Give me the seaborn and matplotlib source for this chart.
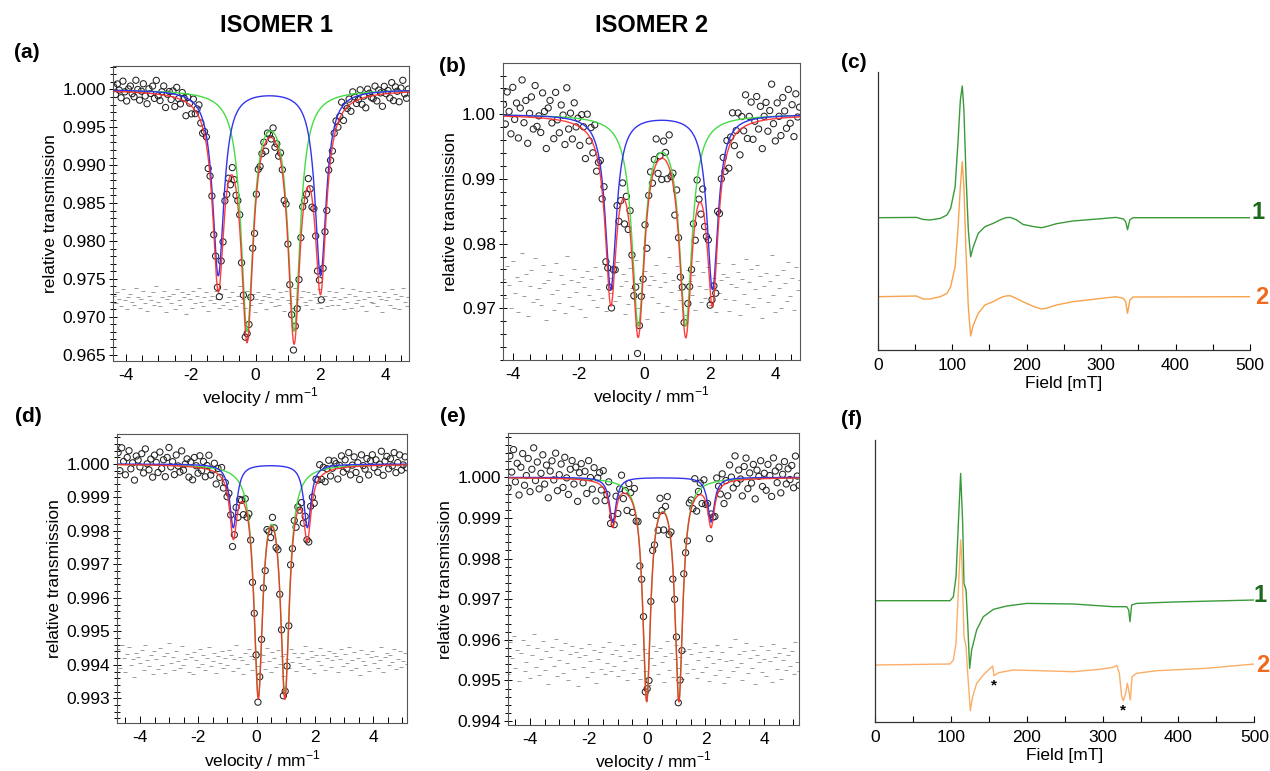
import numpy as np
import pandas as pd
import seaborn as sns
import matplotlib.pyplot as plt
from matplotlib.ticker import MultipleLocator, FormatStrFormatter

# -------------------------------
# Mossbauer fits: doublet line positions (mm/s), depth, half width
# -------------------------------
a_green_pos, a_green_shape = [-0.26, 1.19], (0.0312, 0.225)
a_blue_pos, a_blue_shape = [-1.15, 2.01], (0.0245, 0.21)
b_green_pos, b_green_shape = [-0.18, 1.27], (0.032, 0.23)
b_blue_pos, b_blue_shape = [-1.02, 2.09], (0.027, 0.205)
d_green_pos, d_green_shape = [0.057, 0.97], (0.0067, 0.18)
d_blue_pos, d_blue_shape = [-0.80, 1.74], (0.0019, 0.15)
e_green_pos, e_green_shape = [-0.01, 1.09], (0.0054, 0.16)
e_blue_pos, e_blue_shape = [-1.17, 2.19], (0.0011, 0.14)

# labelled y ticks of each spectrum
a_yticks = [0.965, 0.970, 0.975, 0.980, 0.985, 0.990, 0.995, 1.000]
b_yticks = [0.97, 0.98, 0.99, 1.00]
d_yticks = [0.993, 0.994, 0.995, 0.996, 0.997, 0.998, 0.999, 1.000]
e_yticks = [0.994, 0.995, 0.996, 0.997, 0.998, 0.999, 1.000]

a_resid = [3, -2, 5, 1, -4, 7, 0, -6, 2, 4, -1, -3, 8, 2, -5, 1, 6, -2, -7, 3,
           0, 5, -3, 9, -1, -4, 2, 6, -8, 1, 3, -2, 4, -6, 7, 0, -3, 5, 2, -9,
           4, 1, -5, 6, -2, 3, 8, -1, -4, 2, 5, -7, 0, 3, -2, 6, 1, -5, 4, -3,
           7, -1, 2, -6, 5, 0, -4, 3, 9, -2, 1, -5, 6, 2, -3, 4, -8, 1, 5, -2,
           0, 3, -6, 4, 2, -1, 7, -4, 1, -3, 5, 2, -7, 6, 0, -2, 3, -5, 8, 1,
           -4, 2, 6, -1, -3, 5, 0, -6, 4, 2, -2, 7, -5, 1, 3, -4, 6, 0, -3, 2,
           5, -3, 1, 8, -6, 2, -1, 4, -5, 7, 3, -2, 0, 6, -4, 1, -7, 5, 2, -1,
           -2, 6, -4, 3, 1, -8, 5, 0, 2, -3, 7, -5, 4, 1, -6, 3, 8, -1, -4, 2]
b_resid = [12, -8, 25, 5, -18, 30, -3, 14, -22, 9, 38, -6, 17, -27, 4, 21, -12, 33, -9, 2,
           -15, 26, 7, -31, 11, 19, -4, -20, 28, 0, -13, 16, 6, -24, 35, -7, 10, -16, 22, -2,
           8, -19, 14, 3, -28, 20, -5, 12, -10, 24, -17, 1, 15, -8, 27, -21, 6, 13, -3, 18,
           -11, 29, -6, 4, 17, -25, 9, -14, 23, 2, -9, 31, -18, 7, 12, -4, 20, -30, 5, 15,
           -7, 10, 26, -13, 3, -22, 18, 8, -16, 34, -2, 11, -19, 25, 0, -10, 14, 6, -26, 21,
           9, -5, 16, -20, 30, 4, -12, 19, -8, 1, 24, -15, 7, 13, -23, 28, -3, 11, 17, -9,
           14, -21, 6, 27, -10, 3, 19, -26, 12, -4, 32, -14, 8, 22, -17, 1, 26, -8, 15, -29,
           4, 18, -12, 9, 36, -5, -23, 16, 2, -18, 21, 7, -11, 29, -6, 13, -20, 24, 0, 10]
d_resid = [30, -15, 42, 8, -25, 18, 35, -10, 5, -38, 22, 12, -5, 28, -20, 40, 3, -12, 15, -30,
           25, 7, -18, 33, -8, 14, -28, 20, 45, -3, 10, -22, 27, 0, -15, 38, -10, 6, 19, -26,
           12, -32, 24, 4, -14, 30, -6, 17, -20, 9, 36, -12, 2, 21, -28, 14, -4, 26, -17, 8,
           -9, 28, 15, -24, 6, 40, -16, 11, 3, -30, 20, -7, 32, 13, -21, 5, 25, -11, 18, -2,
           16, -19, 34, 1, -27, 23, 9, -13, 29, -6, 14, -35, 19, 7, -16, 31, -1, 22, -24, 10,
           -4, 20, -12, 38, 5, -18, 26, 11, -29, 15, 2, 33, -9, 17, -22, 8, 27, -14, 4, 21,
           13, -26, 7, 30, -11, 19, -3, 36, -20, 4, 24, -15, 9, -33, 28, 1, -8, 18, -23, 12,
           27, -5, 14, -17, 3, 35, -25, 10, 22, -9, 16, -2, 31, -19, 6, 25, -13, 0, 20, -7]
e_resid = [-20, 45, 12, 58, -8, 30, -35, 22, 50, -15, 5, 40, -28, 18, 62, -5, 33, -22, 10, 48,
           -12, 27, -40, 15, 36, -3, 52, -25, 8, 30, -18, 44, 2, -32, 20, 38, -10, 25, -45, 14,
           33, -6, 18, -27, 41, 7, -16, 29, -38, 11, 24, -9, 35, -20, 3, 46, -14, 21, -4, 30,
           -24, 16, 39, -11, 6, -33, 26, 13, -19, 42, -7, 19, -30, 9, 31, -15, 23, -42, 12, 37,
           -2, 28, -21, 34, 4, -36, 17, 47, -13, 22, -26, 10, 40, -8, 15, -31, 26, 1, -18, 32,
           20, -10, 43, -29, 8, 24, -17, 36, -5, 14, -34, 28, 3, -22, 39, 11, -12, 25, -39, 6,
           -27, 35, 9, -14, 51, -6, 21, 2, -33, 27, 44, -19, 13, -8, 30, -41, 18, 5, 37, -16,
           11, -24, 29, 6, -37, 42, 15, -9, 23, -30, 8, 34, -12, 19, -3, 26, -20, 45, 4, -15]

# -------------------------------
# EPR traces (field in mT, intensity in a.u. relative to each baseline)
# -------------------------------
c_field = [0, 52, 61, 70, 84, 93, 98, 104, 108, 111, 113.6, 115.8, 118.5, 121.7, 124.8,
           128.4, 135, 144, 155, 165, 172, 178, 186, 195, 210, 220, 226, 240, 262, 300,
           320, 330, 333, 335.5, 338.7, 343, 500]
c1_int = [0, 0.3, -1.7, -2.3, -0.7, 2.7, 9.3, 31, 77.7, 117.7, 131.7, 107.7, 44.3, -12.3, -39,
          -29, -15.7, -9, -5.7, -2, 0, 0.3, -2, -6.7, -9, -10, -9, -6, -3.3, -1,
          0.3, -1.3, -4, -12, -2, 0, 0]
c2_int = [0, 0.7, -2.3, -2.3, 0, 3.3, 10, 30, 70, 110, 135, 110, 46.7, -10, -39.3,
          -28.3, -16.7, -8.3, -5, -1, 0.7, 1, -1.7, -5, -10, -12.3, -11.7, -8.3, -5, -1.7,
          0, -1.7, -5, -16.7, -3.3, -0.3, 0]
f1_field = [0, 98.9, 103.3, 106.8, 109.9, 112.9, 115.6, 117.3, 120, 122.2, 124.8, 127.4, 134,
            142.8, 156, 173.6, 200, 261.5, 314.2, 331.8, 334.4, 336.1, 338.3, 345, 393.3, 500]
f1_int = [0, 0, 4, 24, 77.3, 127.3, 77.3, 17.3, 10.7, -22.7, -67.7, -49.3, -29.3,
          -16, -8.7, -5.3, -2.7, -3.3, -6, -6, -9.3, -21, -4.3, -2.7, -1.3, 0.7]
f2_field = [0, 98.9, 103.3, 106.8, 109.9, 112.9, 114.7, 117.3, 120, 122.2, 125.7, 128.7, 134,
            142.8, 147.2, 155.1, 156.9, 162.6, 182.4, 217.5, 261.5, 296.6, 314.2, 318.6,
            322.1, 325.2, 327.4, 330.9, 332.6, 334.4, 336.6, 338.8, 345, 371.3, 437.2, 500]
f2_int = [0, 1, 5, 21.7, 75, 125, 101.7, 28.3, 18.3, -8.3, -45.7, -31.7, -18.3,
          -10, -6.7, -1, -10.7, -7.7, -5, -5.7, -6.7, -4.3, -2.3, -0.3,
          -8.3, -31.7, -35.7, -26.7, -18.3, -25, -35, -11.7, -8.3, -5.7, -3.3, 1]

GREEN_FIT, BLUE_FIT, RED_FIT = "#45dc45", "#3333ee", "#ff2a2a"
EPR_GREEN, EPR_ORANGE = "#3a9a3a", "#f7a24c"

# -------------------------------
# Styling
# -------------------------------
sns.set_style("white")
plt.rcParams["font.family"] = ["Liberation Sans", "DejaVu Sans"]
plt.rcParams["mathtext.fontset"] = "custom"
plt.rcParams["mathtext.rm"] = "Liberation Sans"
plt.rcParams["axes.unicode_minus"] = False
for k in ["text.color", "axes.labelcolor", "xtick.color", "ytick.color"]:
    plt.rcParams[k] = "black"

W, H = 1270, 771
fig = plt.figure(figsize=(W / 100, H / 100), dpi=100)


def px_axes(x0, y0, x1, y1):
    return fig.add_axes([x0 / W, 1 - y1 / H, (x1 - x0) / W, (y1 - y0) / H])


def lorentz(v, pos, shape):
    depth, hw = shape
    return sum(depth * hw ** 2 / ((v - p) ** 2 + hw ** 2) for p in pos)


def moss_panel(box, vel_range, resid, scale, green, blue, res_off, xlim, ylim,
               yticks, ymin, yfmt):
    ax = px_axes(*box)
    vel = np.linspace(vel_range[0], vel_range[1], len(resid))
    res = np.array(resid) * scale
    fit_at_vel = 1 - lorentz(vel, *green) - lorentz(vel, *blue)
    pts = pd.DataFrame({"v": vel, "obs": fit_at_vel + res, "res": res_off + res})

    v = np.linspace(xlim[0], xlim[1], 900)
    g, b = lorentz(v, *green), lorentz(v, *blue)
    fit = pd.DataFrame({"v": v, "green": 1 - g, "blue": 1 - b, "total": 1 - g - b})

    sns.scatterplot(data=pts, x="v", y="res", marker="_", color="#9a9a9a", s=7,
                    linewidth=0.7, ax=ax)
    sns.lineplot(data=fit, x="v", y="green", color=GREEN_FIT, lw=1.0, ax=ax,
                 sort=False, estimator=None)
    sns.lineplot(data=fit, x="v", y="blue", color=BLUE_FIT, lw=1.0, ax=ax,
                 sort=False, estimator=None)
    sns.lineplot(data=fit, x="v", y="total", color=RED_FIT, lw=1.0, alpha=0.9, ax=ax,
                 sort=False, estimator=None)
    sns.scatterplot(data=pts, x="v", y="obs", facecolor="none", edgecolor="#222222",
                    linewidth=0.75, s=20, ax=ax)

    ax.set_xlim(*xlim)
    ax.set_ylim(*ylim)
    ax.xaxis.set_major_locator(MultipleLocator(2))
    ax.xaxis.set_minor_locator(MultipleLocator(0.5))
    ax.set_yticks(yticks)
    ax.yaxis.set_minor_locator(MultipleLocator(ymin))
    ax.yaxis.set_major_formatter(FormatStrFormatter(yfmt))
    ax.tick_params(axis="x", which="both", bottom=True, direction="in", length=5,
                   width=0.7, labelsize=12.5, pad=5)
    ax.tick_params(axis="x", which="minor", length=4)
    ax.tick_params(axis="y", which="both", left=True, direction="inout", length=6,
                   width=0.7, labelsize=12.5, pad=2)
    ax.tick_params(axis="y", which="minor", length=4)
    for s in ax.spines.values():
        s.set_color("#555555")
        s.set_linewidth(0.8)
    ax.set_xlabel("velocity / mm$^{-1}$", fontsize=12.5, labelpad=2)
    ax.set_ylabel("relative transmission", fontsize=12.5, labelpad=3)
    return ax


def epr_panel(box, traces, ylim, labels, stars=()):
    ax = px_axes(*box)
    for field, inten, base, color in traces:
        df = pd.DataFrame({"B": field, "I": np.array(inten) + base})
        sns.lineplot(data=df, x="B", y="I", color=color, lw=1.0, ax=ax,
                     sort=False, estimator=None)
    for x, y, txt, color in labels:
        ax.text(x, y, txt, color=color, fontsize=17, fontweight="bold",
                ha="center", va="center", clip_on=False)
    for x, y in stars:
        ax.text(x, y, "*", fontsize=11, fontweight="bold", ha="center", va="center")
    ax.set_xlim(0, 500)
    ax.set_ylim(*ylim)
    ax.set_yticks([])
    ax.xaxis.set_major_locator(MultipleLocator(100))
    ax.xaxis.set_minor_locator(MultipleLocator(50))
    ax.tick_params(axis="x", which="both", bottom=True, direction="in", length=4,
                   width=0.8, labelsize=12.5, pad=6)
    sns.despine(ax=ax)
    for s in ["left", "bottom"]:
        ax.spines[s].set_color("#333333")
        ax.spines[s].set_linewidth(0.9)
    ax.set_xlabel("Field [mT]", fontsize=12.5, labelpad=2)
    ax.set_ylabel("")
    return ax


moss_panel((112.7, 65.7, 408.7, 360.7), (-4.38, 4.72), a_resid, 2e-4,
           (a_green_pos, a_green_shape), (a_blue_pos, a_blue_shape), 0.9722,
           (-4.41, 4.73), (0.9642, 1.00312), a_yticks, 0.001, "%.3f")
moss_panel((502.7, 63.3, 800, 360), (-4.30, 4.75), b_resid, 1.5e-4,
           (b_green_pos, b_green_shape), (b_blue_pos, b_blue_shape), 0.9728,
           (-4.324, 4.764), (0.9620, 1.00789), b_yticks, 0.002, "%.2f")
moss_panel((117.3, 434, 407.3, 723.3), (-4.75, 5.15), d_resid, 1.2e-5,
           (d_green_pos, d_green_shape), (d_blue_pos, d_blue_shape), 0.9941,
           (-4.778, 5.166), (0.992253, 1.000896), d_yticks, 0.0002, "%.3f")
moss_panel((507.7, 433.3, 799.3, 725), (-4.75, 5.20), e_resid, 1.2e-5,
           (e_green_pos, e_green_shape), (e_blue_pos, e_blue_shape), 0.9954,
           (-4.762, 5.207), (0.993902, 1.001084), e_yticks, 0.0002, "%.3f")

epr_panel((877.7, 72, 1250, 350),
          [(c_field, c1_int, 132.3, EPR_GREEN), (c_field, c2_int, 53.3, EPR_ORANGE)],
          (0, 278),
          [(510.5, 137, "1", "#1c6b1c"), (515.4, 52.3, "2", "#f06a1e")])
epr_panel((875, 440, 1254.3, 721.7),
          [(f1_field, f1_int, 121, EPR_GREEN), (f2_field, f2_int, 56.7, "#fbae68")],
          (0, 281.7),
          [(507.5, 126.7, "1", "#1c6b1c"), (510.8, 56.7, "2", "#f06a1e")],
          stars=[(156.9, 36.5), (327.3, 11.5)])

# column titles and panel letters
fig.text(276 / W, 1 - 25 / H, "ISOMER 1", ha="center", va="center", fontsize=17, fontweight="bold")
fig.text(652 / W, 1 - 25 / H, "ISOMER 2", ha="center", va="center", fontsize=17, fontweight="bold")
for x, y, lab in [(27, 53, "(a)"), (452, 66, "(b)"), (854, 63, "(c)"),
                  (28, 417, "(d)"), (453, 417, "(e)"), (852, 420, "(f)")]:
    fig.text(x / W, 1 - y / H, lab, ha="center", va="center", fontsize=15, fontweight="bold")

fig.savefig("out.png", dpi=100)
